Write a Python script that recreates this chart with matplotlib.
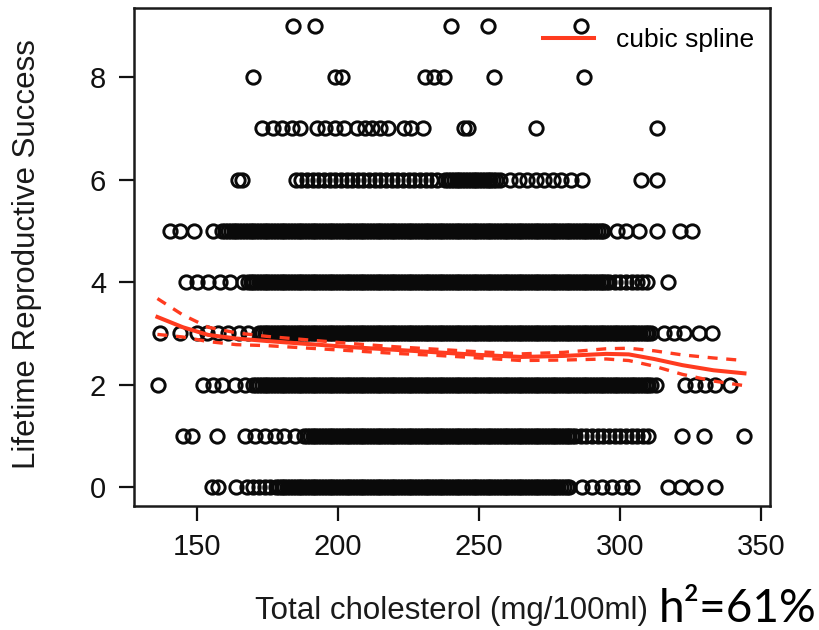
import matplotlib
matplotlib.use("Agg")
import matplotlib.pyplot as plt
from matplotlib.lines import Line2D

plt.rcParams['font.family'] = ['Liberation Sans', 'DejaVu Sans']

# ---- data: cholesterol values observed at each lifetime reproductive success level ----
lrs0 = [155.4, 157.5, 164, 167.8, 170, 172, 174, 176,
        178, 179, 180, 181, 182, 183, 184, 185, 186, 187, 188, 189, 190, 191, 192, 193,
        194, 195, 196, 197, 198, 199, 200, 201, 202, 203, 204, 205, 206, 207, 208, 209,
        210, 211, 212, 213, 214, 215, 216, 217, 218, 219, 220, 221, 222, 223, 224, 225,
        226, 227, 228, 229, 230, 231, 232, 233, 234, 235, 236, 237, 238, 239, 240, 241,
        242, 243, 244, 245, 246, 247, 248, 249, 250, 251, 252, 253, 254, 255, 256, 257,
        258, 259, 260, 261, 262, 263, 264, 265, 266, 267, 268, 269, 270, 271, 272, 273,
        274, 275, 276, 277, 278, 279, 280, 281, 282,
        286.5, 290, 293.5, 297, 300.5, 304, 317, 321.5, 326.6, 333.7]
lrs1 = [145, 148.4, 157, 167, 170.6, 174, 177.7, 181, 184.8,
        188, 189, 190, 191, 192, 193, 194, 195, 196, 197, 198, 199, 200, 201, 202, 203,
        204, 205, 206, 207, 208, 209, 210, 211, 212, 213, 214, 215, 216, 217, 218, 219,
        220, 221, 222, 223, 224, 225, 226, 227, 228, 229, 230, 231, 232, 233, 234, 235,
        236, 237, 238, 239, 240, 241, 242, 243, 244, 245, 246, 247, 248, 249, 250, 251,
        252, 253, 254, 255, 256, 257, 258, 259, 260, 261, 262, 263, 264, 265, 266, 267,
        268, 269, 270, 271, 272, 273, 274, 275, 276, 277, 278, 279, 280, 281, 282, 283,
        284, 286, 288, 290, 292, 294, 296, 298, 300, 302, 304, 306, 308, 310,
        322, 329.8, 344]
lrs2 = [136.3, 152, 155.8, 159, 163.6, 167,
        170, 171, 172, 173, 174, 175, 176, 177, 178, 179, 180, 181, 182, 183, 184, 185,
        186, 187, 188, 189, 190, 191, 192, 193, 194, 195, 196, 197, 198, 199, 200, 201,
        202, 203, 204, 205, 206, 207, 208, 209, 210, 211, 212, 213, 214, 215, 216, 217,
        218, 219, 220, 221, 222, 223, 224, 225, 226, 227, 228, 229, 230, 231, 232, 233,
        234, 235, 236, 237, 238, 239, 240, 241, 242, 243, 244, 245, 246, 247, 248, 249,
        250, 251, 252, 253, 254, 255, 256, 257, 258, 259, 260, 261, 262, 263, 264, 265,
        266, 267, 268, 269, 270, 271, 272, 273, 274, 275, 276, 277, 278, 279, 280, 281,
        282, 283, 284, 285, 286, 287, 288, 289, 290, 291, 292, 293, 294, 295, 296, 297,
        298, 299, 300, 301, 302, 303, 304, 305, 306, 307, 308, 309, 310, 311, 312.5,
        323, 326.6, 330, 333.7, 339]
lrs3 = [137, 144, 150, 153.7, 157.5, 161, 165, 168,
        172, 173, 174, 175, 176, 177, 178, 179, 180, 181, 182, 183, 184, 185, 186, 187,
        188, 189, 190, 191, 192, 193, 194, 195, 196, 197, 198, 199, 200, 201, 202, 203,
        204, 205, 206, 207, 208, 209, 210, 211, 212, 213, 214, 215, 216, 217, 218, 219,
        220, 221, 222, 223, 224, 225, 226, 227, 228, 229, 230, 231, 232, 233, 234, 235,
        236, 237, 238, 239, 240, 241, 242, 243, 244, 245, 246, 247, 248, 249, 250, 251,
        252, 253, 254, 255, 256, 257, 258, 259, 260, 261, 262, 263, 264, 265, 266, 267,
        268, 269, 270, 271, 272, 273, 274, 275, 276, 277, 278, 279, 280, 281, 282, 283,
        284, 285, 286, 287, 288, 289, 290, 291, 292, 293, 294, 295, 296, 297, 298, 299,
        300, 301, 302, 303, 304, 305, 306, 307, 308, 309, 310, 311,
        315.5, 319, 322.6, 328, 332.5]
lrs4 = [146, 150, 154, 158, 161.8, 166.4,
        168, 169, 170, 171, 172, 173, 174, 175, 176, 177, 178, 179, 180, 181, 182, 183,
        184, 185, 186, 187, 188, 189, 190, 191, 192, 193, 194, 195, 196, 197, 198, 199,
        200, 201, 202, 203, 204, 205, 206, 207, 208, 209, 210, 211, 212, 213, 214, 215,
        216, 217, 218, 219, 220, 221, 222, 223, 224, 225, 226, 227, 228, 229, 230, 231,
        232, 233, 234, 235, 236, 237, 238, 239, 240, 241, 242, 243, 244, 245, 246, 247,
        248, 249, 250, 251, 252, 253, 254, 255, 256, 257, 258, 259, 260, 261, 262, 263,
        264, 265, 266, 267, 268, 269, 270, 271, 272, 273, 274, 275, 276, 277, 278, 279,
        280, 281, 282, 283, 284, 285, 286, 287, 288, 289, 290, 291, 292, 293, 294, 295,
        296, 298, 300, 302, 304, 306, 307.7,
        309.5, 317]
lrs5 = [140.6, 144, 148.8, 155.8,
        159, 160, 161, 162, 163, 164, 165, 166, 167, 168, 169, 170, 171, 172, 173, 174,
        175, 176, 177, 178, 179, 180, 181, 182, 183, 184, 185, 186, 187, 188, 189, 190,
        191, 192, 193, 194, 195, 196, 197, 198, 199, 200, 201, 202, 203, 204, 205, 206,
        207, 208, 209, 210, 211, 212, 213, 214, 215, 216, 217, 218, 219, 220, 221, 222,
        223, 224, 225, 226, 227, 228, 229, 230, 231, 232, 233, 234, 235, 236, 237, 238,
        239, 240, 241, 242, 243, 244, 245, 246, 247, 248, 249, 250, 251, 252, 253, 254,
        255, 256, 257, 258, 259, 260, 261, 262, 263, 264, 265, 266, 267, 268, 269, 270,
        271, 272, 273, 274, 275, 276, 277, 278, 279, 280, 281, 282, 283, 284, 285, 286,
        287, 288, 289, 290, 291, 292, 293, 294,
        299, 302, 306.8, 313, 321, 325.5]
lrs6 = [164.5, 166,
        185, 187, 189, 191, 193, 195, 197, 199, 201, 203, 205, 207, 209, 211, 213, 215,
        217, 219, 221, 223, 225, 227, 229, 231, 233, 235,
        238, 239, 240, 241, 242, 243, 244, 245, 246, 247, 248, 249, 250, 251, 252, 253,
        254, 255, 256, 257.5,
        261, 264, 267, 270, 273, 276, 279, 282.5, 286.5,
        307.5, 313]
lrs7 = [173, 177, 180, 183.7, 186.6, 192.5, 195.4, 199, 202, 206.7, 209.5, 212, 215,
        217.7, 223.3, 226, 230, 244.8, 246, 270, 313]
lrs8 = [170, 199, 201.5, 230.7, 234, 237.7, 255.4, 287]
lrs9 = [184, 192, 240, 253, 286]
lrs_rows = [lrs0, lrs1, lrs2, lrs3, lrs4, lrs5, lrs6, lrs7, lrs8, lrs9]

# cubic spline fit with confidence band
spline_x = [136, 145, 154, 164, 175, 190, 205, 220, 235, 250, 265, 280, 295, 303, 312, 322, 333, 344]
spline_fit = [3.32, 3.12, 2.97, 2.90, 2.85, 2.79, 2.73, 2.68, 2.63, 2.58, 2.54, 2.56, 2.60, 2.59, 2.50, 2.38, 2.28, 2.22]
spline_upper = [3.68, 3.36, 3.12, 3.01, 2.94, 2.87, 2.80, 2.74, 2.69, 2.64, 2.60, 2.63, 2.70, 2.71, 2.66, 2.58, 2.52, 2.47]
spline_lower = [2.98, 2.93, 2.84, 2.78, 2.76, 2.71, 2.66, 2.61, 2.57, 2.52, 2.47, 2.48, 2.50, 2.47, 2.36, 2.20, 2.07, 1.98]

x_ticks = [150, 200, 250, 300, 350]
y_ticks = [0, 2, 4, 6, 8]

# ---- figure ----
fig = plt.figure(figsize=(8.19, 6.30), dpi=100)
ax = fig.add_axes([0.1636, 0.1976, 0.7764, 0.7904])

for lrs, xs in enumerate(lrs_rows):
    ax.plot(xs, [lrs] * len(xs), linestyle='none', marker='o', markersize=9.6,
            markerfacecolor='none', markeredgecolor='#0a0a0a', markeredgewidth=2.1, zorder=2)

red = '#ff3b1f'
ax.plot(spline_x, spline_fit, color=red, lw=2.9, zorder=3, solid_joinstyle='round')
ax.plot(spline_x, spline_upper, color=red, lw=2.4, ls=(0, (3, 2.6)), zorder=3)
ax.plot(spline_x, spline_lower, color=red, lw=2.4, ls=(0, (3, 2.6)), zorder=3)

ax.set_xlim(127.7, 353)
ax.set_ylim(-0.36, 9.36)
ax.set_xticks(x_ticks)
ax.set_yticks(y_ticks)
ax.tick_params(axis='both', labelsize=21, length=11, width=1.6, pad=9, colors='#111111')
for sp in ax.spines.values():
    sp.set_linewidth(1.8)
    sp.set_color('#1a1a1a')

ax.set_xlabel('Total cholesterol (mg/100ml)', fontsize=22.5, color='#1a1a1a')
ax.set_ylabel('Lifetime Reproductive Success', fontsize=22.5, color='#1a1a1a')
ax.xaxis.set_label_coords(0.5, -0.182)
ax.yaxis.set_label_coords(-0.145, 0.505)

handle = Line2D([], [], color=red, lw=2.9)
leg = ax.legend([handle], ['cubic spline'], loc='upper right', bbox_to_anchor=(0.976, 0.958),
                frameon=False, fontsize=19, handlelength=1.95, handletextpad=0.85,
                borderpad=0, borderaxespad=0)

fig.text(0.997, 0.012, 'h\u00b2=61%', fontsize=33, family=['Lato', 'DejaVu Sans'],
         ha='right', va='baseline', color='black')

fig.savefig('out.png', dpi=100)
